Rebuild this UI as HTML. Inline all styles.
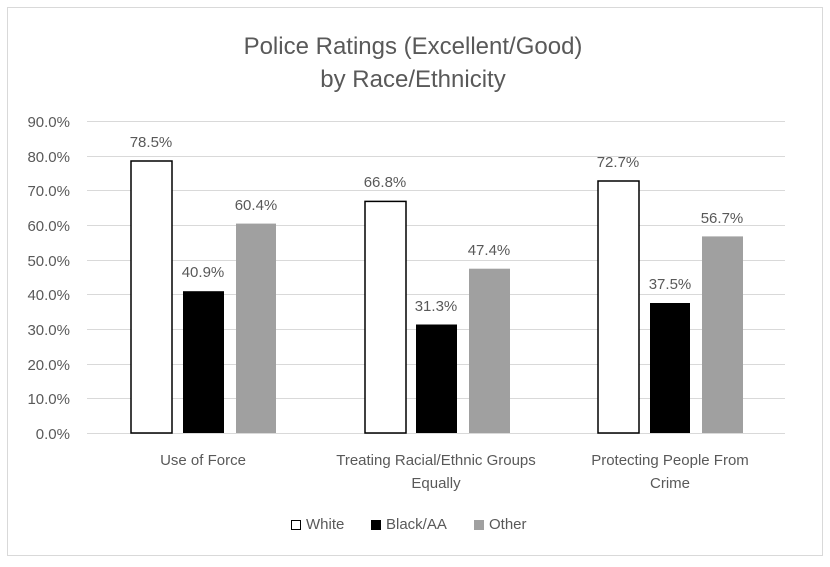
<!DOCTYPE html>
<html><head><style>body{margin:0;background:#fff}svg{display:block}text{font-family:"Liberation Sans",sans-serif;fill:#595959}</style></head>
<body>
<svg width="830" height="567" viewBox="0 0 830 567">
<rect x="7.5" y="7.5" width="815" height="548" fill="#fff" stroke="#d9d9d9"/>
<text x="413" y="54" font-size="24" text-anchor="middle">Police Ratings (Excellent/Good)</text>
<text x="413" y="87" font-size="24" text-anchor="middle">by Race/Ethnicity</text>
<g stroke="#d9d9d9" stroke-width="1">
<line x1="87" x2="785" y1="121.5" y2="121.5"/><line x1="87" x2="785" y1="156.5" y2="156.5"/>
<line x1="87" x2="785" y1="190.5" y2="190.5"/><line x1="87" x2="785" y1="225.5" y2="225.5"/>
<line x1="87" x2="785" y1="260.5" y2="260.5"/><line x1="87" x2="785" y1="294.5" y2="294.5"/>
<line x1="87" x2="785" y1="329.5" y2="329.5"/><line x1="87" x2="785" y1="364.5" y2="364.5"/>
<line x1="87" x2="785" y1="398.5" y2="398.5"/><line x1="87" x2="785" y1="433.5" y2="433.5"/>
</g>
<g font-size="15" text-anchor="end">
<text x="70" y="127">90.0%</text><text x="70" y="162">80.0%</text><text x="70" y="196">70.0%</text>
<text x="70" y="231">60.0%</text><text x="70" y="266">50.0%</text><text x="70" y="300">40.0%</text>
<text x="70" y="335">30.0%</text><text x="70" y="370">20.0%</text><text x="70" y="404">10.0%</text>
<text x="70" y="439">0.0%</text></g>
<g>
<rect x="131" y="161" width="41" height="272" fill="#fff" stroke="#000" stroke-width="1.5"/>
<rect x="183" y="291.2" width="41" height="141.8" fill="#000"/>
<rect x="236" y="223.6" width="40" height="209.4" fill="#a0a0a0"/>
<rect x="365" y="201.4" width="41" height="231.6" fill="#fff" stroke="#000" stroke-width="1.5"/>
<rect x="416" y="324.5" width="41" height="108.5" fill="#000"/>
<rect x="469" y="268.7" width="41" height="164.3" fill="#a0a0a0"/>
<rect x="598" y="181" width="41" height="252" fill="#fff" stroke="#000" stroke-width="1.5"/>
<rect x="650" y="303" width="40" height="130" fill="#000"/>
<rect x="702" y="236.4" width="41" height="196.6" fill="#a0a0a0"/>
</g>
<g font-size="15" text-anchor="middle">
<text x="151" y="147">78.5%</text><text x="203" y="277">40.9%</text><text x="256" y="210">60.4%</text>
<text x="385" y="187">66.8%</text><text x="436" y="311">31.3%</text><text x="489" y="255">47.4%</text>
<text x="618" y="167">72.7%</text><text x="670" y="289">37.5%</text><text x="722" y="223">56.7%</text>
<text x="203" y="465">Use of Force</text>
<text x="436" y="465">Treating Racial/Ethnic Groups</text><text x="436" y="488">Equally</text>
<text x="670" y="465">Protecting People From</text><text x="670" y="488">Crime</text>
</g>
<g font-size="15">
<rect x="291.5" y="520.5" width="9" height="9" fill="#fff" stroke="#000"/><text x="306" y="529">White</text>
<rect x="371" y="520" width="10" height="10" fill="#000"/><text x="386" y="529">Black/AA</text>
<rect x="474" y="520" width="10" height="10" fill="#a0a0a0"/><text x="489" y="529">Other</text>
</g>
</svg>
</body></html>
